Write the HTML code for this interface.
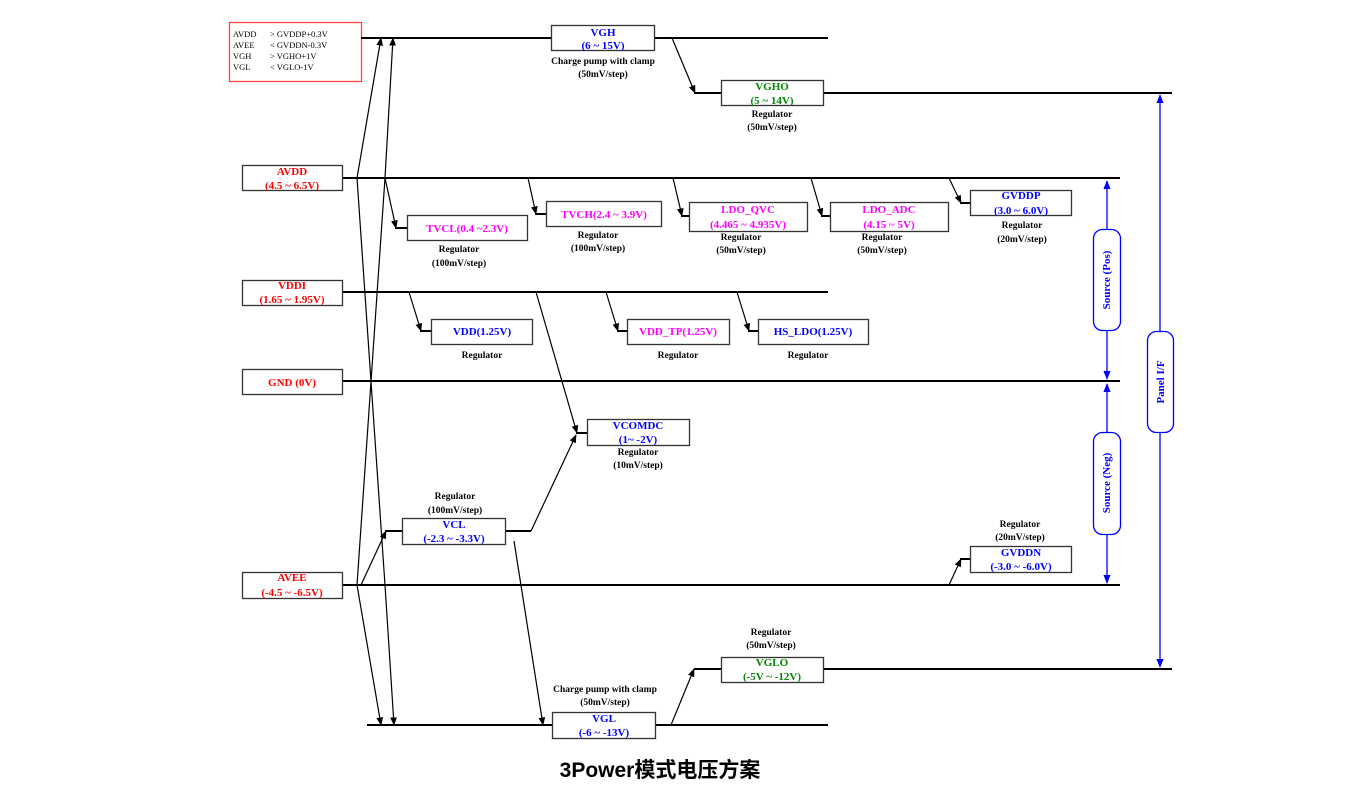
<!DOCTYPE html>
<html><head><meta charset="utf-8"><style>
body{margin:0;background:#fff;width:1366px;height:790px;overflow:hidden}
svg text{font-family:"Liberation Serif",serif;font-weight:bold;font-size:11px;text-anchor:middle}
.r{fill:#f00}.b{fill:#00f}.m{fill:#f0f}.g{fill:#080}.k{fill:#000;font-size:9.5px}
</style></head><body>
<svg width="1366" height="790" xmlns="http://www.w3.org/2000/svg">
<defs>
<marker id="a" viewBox="0 0 10 10" refX="9" refY="5" markerWidth="7" markerHeight="7" orient="auto-start-reverse"><path d="M0,1 L10,5 L0,9 z" fill="#000"/></marker>
<marker id="ab" viewBox="0 0 10 10" refX="9" refY="5" markerWidth="7" markerHeight="7" orient="auto-start-reverse"><path d="M0,1 L10,5 L0,9 z" fill="#00f"/></marker>
</defs>
<!-- legend -->
<rect x="229.5" y="22.5" width="132" height="59" fill="#fff" stroke="#f44" stroke-width="1.3"/>
<g style="font-weight:normal;font-size:8.5px;text-anchor:start" fill="#000">
<text x="233" y="37" style="text-anchor:start;font-weight:normal;font-size:8.5px">AVDD</text><text x="270" y="37" style="text-anchor:start;font-weight:normal;font-size:8.5px">&gt; GVDDP+0.3V</text>
<text x="233" y="48" style="text-anchor:start;font-weight:normal;font-size:8.5px">AVEE</text><text x="270" y="48" style="text-anchor:start;font-weight:normal;font-size:8.5px">&lt; GVDDN-0.3V</text>
<text x="233" y="59" style="text-anchor:start;font-weight:normal;font-size:8.5px">VGH</text><text x="270" y="59" style="text-anchor:start;font-weight:normal;font-size:8.5px">&gt; VGHO+1V</text>
<text x="233" y="70" style="text-anchor:start;font-weight:normal;font-size:8.5px">VGL</text><text x="270" y="70" style="text-anchor:start;font-weight:normal;font-size:8.5px">&lt; VGLO-1V</text>
</g>
<!-- rails -->
<g stroke="#000" stroke-width="2" fill="none">
<line x1="361" y1="38" x2="828" y2="38"/>
<line x1="695" y1="93" x2="1172" y2="93"/>
<line x1="342" y1="178" x2="1120" y2="178"/>
<line x1="342" y1="292" x2="828" y2="292"/>
<line x1="342" y1="381" x2="1120" y2="381"/>
<line x1="342" y1="585" x2="1120" y2="585"/>
<line x1="823" y1="669" x2="1172" y2="669"/>
<line x1="367" y1="725" x2="828" y2="725"/>
<!-- short horizontals into boxes -->
<line x1="395" y1="228" x2="407" y2="228"/>
<line x1="535" y1="214" x2="546" y2="214"/>
<line x1="681" y1="216" x2="689" y2="216"/>
<line x1="821" y1="216" x2="830" y2="216"/>
<line x1="960" y1="203" x2="970" y2="203"/>
<line x1="420" y1="331" x2="431" y2="331"/>
<line x1="617" y1="331" x2="627" y2="331"/>
<line x1="748" y1="331" x2="758" y2="331"/>
<line x1="576" y1="433" x2="587" y2="433"/>
<line x1="505" y1="531" x2="531" y2="531"/>
<line x1="385" y1="531" x2="402" y2="531"/>
<line x1="960" y1="559" x2="970" y2="559"/>
<line x1="694" y1="93" x2="721" y2="93"/>
<line x1="694" y1="669" x2="721" y2="669"/>
</g>
<g stroke="#000" stroke-width="1.2" fill="none" marker-end="url(#a)">
<polyline points="357,178 381,38"/>
<polyline points="385,178 393,38"/>
<polyline points="357,178 385,585 394,725"/>
<polyline points="385,178 357,585 381,725"/>
<line x1="672" y1="38" x2="695" y2="93"/>
<line x1="385" y1="178" x2="396" y2="228"/>
<line x1="528" y1="178" x2="536" y2="214"/>
<line x1="673" y1="178" x2="682" y2="216"/>
<line x1="811" y1="178" x2="822" y2="216"/>
<line x1="949" y1="178" x2="961" y2="203"/>
<line x1="409" y1="292" x2="421" y2="331"/>
<line x1="606" y1="292" x2="618" y2="331"/>
<line x1="737" y1="292" x2="749" y2="331"/>
<line x1="536" y1="292" x2="577" y2="433"/>
<polyline points="531,531 576,435"/>
<line x1="361" y1="585" x2="386" y2="531"/>
<line x1="949" y1="585" x2="961" y2="559"/>
<line x1="514" y1="541" x2="543" y2="725"/>
<line x1="671" y1="725" x2="694" y2="669"/>
</g>
<!-- blue -->
<g stroke="#00f" stroke-width="1.3" fill="none">
<line x1="1107" y1="181" x2="1107" y2="379" marker-start="url(#ab)" marker-end="url(#ab)"/>
<line x1="1107" y1="384" x2="1107" y2="583" marker-start="url(#ab)" marker-end="url(#ab)"/>
<line x1="1160" y1="95" x2="1160" y2="667" marker-start="url(#ab)" marker-end="url(#ab)"/>
</g>
<g stroke="#00f" stroke-width="1.3" fill="#fff">
<rect x="1093.5" y="229.5" width="27" height="101" rx="9"/>
<rect x="1093.5" y="432.5" width="27" height="102" rx="9"/>
<rect x="1147.5" y="331.5" width="26" height="101" rx="9"/>
</g>
<text class="b" transform="translate(1110,280) rotate(-90)">Source (Pos)</text>
<text class="b" transform="translate(1110,483) rotate(-90)">Source (Neg)</text>
<text class="b" transform="translate(1164,382) rotate(-90)">Panel I/F</text>
<!-- boxes -->
<g stroke="#333" stroke-width="1.3" fill="#fff">
<rect x="551.5" y="25.5" width="103" height="25"/>
<rect x="721.5" y="80.5" width="102" height="25"/>
<rect x="242.5" y="165.5" width="100" height="25"/>
<rect x="407.5" y="215.5" width="120" height="25"/>
<rect x="546.5" y="201.5" width="115" height="25"/>
<rect x="689.5" y="202.5" width="118" height="29"/>
<rect x="830.5" y="202.5" width="118" height="29"/>
<rect x="970.5" y="190.5" width="101" height="25"/>
<rect x="242.5" y="280.5" width="100" height="25"/>
<rect x="431.5" y="319.5" width="101" height="25"/>
<rect x="627.5" y="319.5" width="102" height="25"/>
<rect x="758.5" y="319.5" width="110" height="25"/>
<rect x="242.5" y="369.5" width="100" height="25"/>
<rect x="587.5" y="419.5" width="102" height="26"/>
<rect x="402.5" y="518.5" width="103" height="26"/>
<rect x="242.5" y="572.5" width="100" height="26"/>
<rect x="970.5" y="546.5" width="101" height="26"/>
<rect x="721.5" y="657.5" width="102" height="25"/>
<rect x="552.5" y="712.5" width="103" height="26"/>
</g>
<text class="b" x="603" y="36">VGH</text><text class="b" x="603" y="49">(6 ~ 15V)</text>
<text class="k" x="603" y="64">Charge pump with clamp</text><text class="k" x="603" y="77">(50mV/step)</text>
<text class="g" x="772" y="90">VGHO</text><text class="g" x="772" y="104">(5 ~ 14V)</text>
<text class="k" x="772" y="117">Regulator</text><text class="k" x="772" y="130">(50mV/step)</text>
<text class="r" x="292" y="175">AVDD</text><text class="r" x="292" y="189">(4.5 ~ 6.5V)</text>
<text class="m" x="467" y="232">TVCL(0.4 ~2.3V)</text>
<text class="k" x="459" y="252">Regulator</text><text class="k" x="459" y="266">(100mV/step)</text>
<text class="m" x="604" y="218">TVCH(2.4 ~ 3.9V)</text>
<text class="k" x="598" y="238">Regulator</text><text class="k" x="598" y="251">(100mV/step)</text>
<text class="m" x="748" y="213">LDO_QVC</text><text class="m" x="748" y="228">(4.465 ~ 4.935V)</text>
<text class="k" x="741" y="240">Regulator</text><text class="k" x="741" y="253">(50mV/step)</text>
<text class="m" x="889" y="213">LDO_ADC</text><text class="m" x="889" y="228">(4.15 ~ 5V)</text>
<text class="k" x="882" y="240">Regulator</text><text class="k" x="882" y="253">(50mV/step)</text>
<text class="b" x="1021" y="199">GVDDP</text><text class="b" x="1021" y="214">(3.0 ~ 6.0V)</text>
<text class="k" x="1022" y="228">Regulator</text><text class="k" x="1022" y="242">(20mV/step)</text>
<text class="r" x="292" y="289">VDDI</text><text class="r" x="292" y="303">(1.65 ~ 1.95V)</text>
<text class="b" x="482" y="335">VDD(1.25V)</text><text class="k" x="482" y="358">Regulator</text>
<text class="m" x="678" y="335">VDD_TP(1.25V)</text><text class="k" x="678" y="358">Regulator</text>
<text class="b" x="813" y="335">HS_LDO(1.25V)</text><text class="k" x="808" y="358">Regulator</text>
<text class="r" x="292" y="386">GND (0V)</text>
<text class="b" x="638" y="429">VCOMDC</text><text class="b" x="638" y="443">(1~ -2V)</text>
<text class="k" x="638" y="455">Regulator</text><text class="k" x="638" y="468">(10mV/step)</text>
<text class="k" x="455" y="499">Regulator</text><text class="k" x="455" y="513">(100mV/step)</text>
<text class="b" x="454" y="528">VCL</text><text class="b" x="454" y="542">(-2.3 ~ -3.3V)</text>
<text class="r" x="292" y="581">AVEE</text><text class="r" x="292" y="596">(-4.5 ~ -6.5V)</text>
<text class="k" x="1020" y="527">Regulator</text><text class="k" x="1020" y="540">(20mV/step)</text>
<text class="b" x="1021" y="556">GVDDN</text><text class="b" x="1021" y="570">(-3.0 ~ -6.0V)</text>
<text class="k" x="771" y="635">Regulator</text><text class="k" x="771" y="648">(50mV/step)</text>
<text class="g" x="772" y="666">VGLO</text><text class="g" x="772" y="680">(-5V ~ -12V)</text>
<text class="k" x="605" y="692">Charge pump with clamp</text><text class="k" x="605" y="705">(50mV/step)</text>
<text class="b" x="604" y="722">VGL</text><text class="b" x="604" y="736">(-6 ~ -13V)</text>
<text x="660" y="777" style="font-family:'Liberation Sans','Noto Sans CJK SC',sans-serif;font-size:21px;font-weight:bold">3Power模式电压方案</text>
</svg>
</body></html>
